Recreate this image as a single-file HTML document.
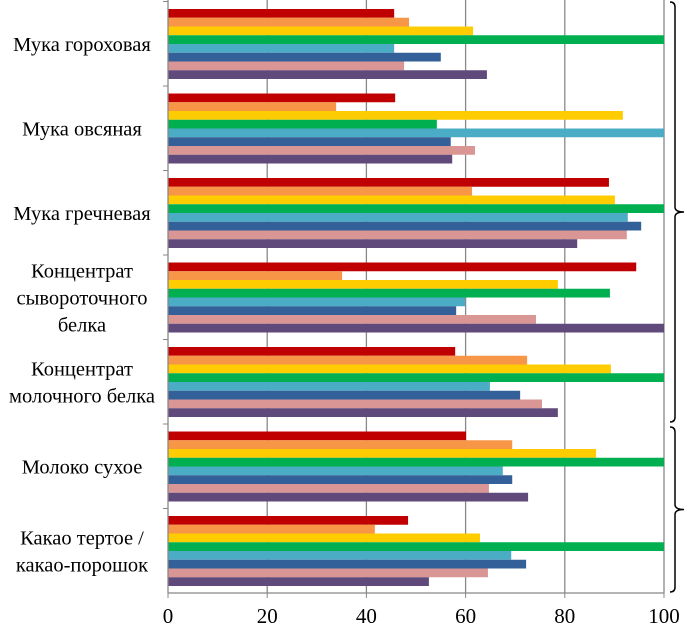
<!DOCTYPE html>
<html><head><meta charset="utf-8"><style>
body{margin:0;background:#fff}
svg text{font-family:"Liberation Serif",serif;fill:#000}
</style></head><body>
<svg id="c" width="687" height="625"></svg>
<script>
const categories=["Мука гороховая","Мука овсяная","Мука гречневая","Концентрат|сывороточного|белка","Концентрат|молочного белка","Молоко сухое","Какао тертое /|какао-порошок"];
const s1=[45.6,45.8,88.9,94.4,57.9,60.1,48.4];
const s2=[48.6,33.9,61.3,35.1,72.4,69.4,41.7];
const s3=[61.5,91.7,90.1,78.6,89.3,86.3,62.9];
const s4=[100,54.2,100,89.1,100,100,100];
const s5=[45.6,100,92.7,59.9,64.9,67.5,69.2];
const s6=[55,57,95.4,58.1,71,69.4,72.2];
const s7=[47.6,61.9,92.5,74.2,75.4,64.7,64.5];
const s8=[64.3,57.3,82.5,100,78.6,72.6,52.6];
const ticks=[0,20,40,60,80,100];
const series=[s1,s2,s3,s4,s5,s6,s7,s8];
const colors=["#c00000","#f79646","#ffcc00","#00b050","#4bacc6","#34609a","#d99694","#604a7b"];
const NS="http://www.w3.org/2000/svg";
const svg=document.getElementById('c');
const X0=168,X1=664,Y0=1.5,GH=84.5;
const x=v=>X0+(X1-X0)*v/100;
function mk(t,a){const e=document.createElementNS(NS,t);for(const k in a)e.setAttribute(k,a[k]);svg.appendChild(e);return e;}
ticks.forEach(t=>{if(t>0){const g=mk('line',{x1:x(t),x2:x(t),y1:0,y2:Y0+7*GH,stroke:'#888','stroke-width':1.3});

}
const tl=mk('text',{x:x(t),y:623,'text-anchor':'middle','font-size':21});tl.textContent=t;


const tk=mk('line',{x1:x(t),x2:x(t),y1:Y0+7*GH,y2:Y0+7*GH+5,stroke:'#888'});

});
const bh=8.75;
categories.forEach((c,i)=>{const gy=Y0+i*GH;
series.forEach((s,j)=>{const r=mk('rect',{x:X0,y:gy+7.5+j*bh,width:x(s[i])-X0,height:bh,fill:colors[j]});

});
const lines=c.split('|');const cy=gy+GH/2;
lines.forEach((l,k)=>{const t=mk('text',{x:82,y:cy+7+(k-(lines.length-1)/2)*27,'text-anchor':'middle','font-size':20.5});t.textContent=l;

});
const tk=mk('line',{x1:163,x2:X0,y1:gy,y2:gy,stroke:'#888'});

});
const ax=mk('line',{x1:X0,x2:X0,y1:0,y2:Y0+7*GH,stroke:'#888','stroke-width':1.3});


const ax2=mk('line',{x1:X0,x2:X1,y1:Y0+7*GH,y2:Y0+7*GH,stroke:'#888','stroke-width':1.3});


function brace(y1,y2,name){const m=(y1+y2)/2;
const p=mk('path',{d:`M670 ${y1} Q675 ${y1} 675 ${y1+5} L675 ${m-5} Q675 ${m} 684 ${m} Q675 ${m} 675 ${m+5} L675 ${y2-5} Q675 ${y2} 670 ${y2}`,fill:'none',stroke:'#000','stroke-width':1.5});

}
brace(2,422,'brace-top');brace(427,592,'brace-bottom');
</script>
</body></html>
